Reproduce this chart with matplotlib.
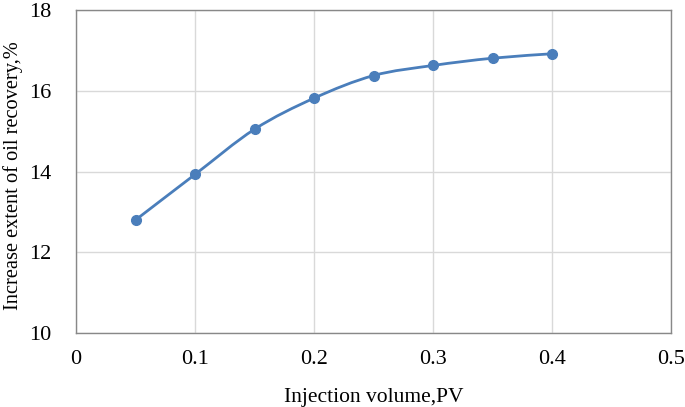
import matplotlib
matplotlib.use("Agg")
import matplotlib.pyplot as plt
import numpy as np
from matplotlib.path import Path
from matplotlib.patches import PathPatch

plt.rcParams["font.family"] = ["Liberation Serif", "DejaVu Serif"]

injection_pv = [0.05, 0.10, 0.15, 0.20, 0.25, 0.30, 0.35, 0.40]
recovery_increase = [12.80, 13.93, 15.05, 15.82, 16.38, 16.63, 16.81, 16.92]

LINE_COLOR = "#4a7ebb"


def smooth_path(xs, ys):
    """Excel-style smoothed line: Catmull-Rom segments as cubic Beziers."""
    pts = np.column_stack([xs, ys])
    verts = [pts[0]]
    codes = [Path.MOVETO]
    n = len(pts)
    for i in range(n - 1):
        p0 = pts[max(i - 1, 0)]
        p1 = pts[i]
        p2 = pts[i + 1]
        p3 = pts[min(i + 2, n - 1)]
        c1 = p1 + (p2 - p0) / 6.0
        c2 = p2 - (p3 - p1) / 6.0
        verts += [c1, c2, p2]
        codes += [Path.CURVE4] * 3
    return Path(verts, codes)


fig = plt.figure(figsize=(6.85, 4.07), dpi=100)
ax = fig.add_axes([0.111, 0.182, 0.869, 0.793])

ax.add_patch(PathPatch(smooth_path(injection_pv, recovery_increase),
                       facecolor="none", edgecolor=LINE_COLOR, lw=2.0, zorder=3))
ax.plot(injection_pv, recovery_increase, ls="none", marker="o", ms=7,
        color=LINE_COLOR, zorder=4)

ax.set_xlim(0, 0.5)
ax.set_ylim(10, 18)
ax.set_xticks(np.arange(0, 0.51, 0.1))
ax.set_xticklabels(["0", "0.1", "0.2", "0.3", "0.4", "0.5"])
ax.set_yticks([10, 12, 14, 16, 18])
ax.grid(True, color="#d9d9d9", lw=1.0)
ax.set_axisbelow(True)
for spine in ax.spines.values():
    spine.set_color("#888888")
    spine.set_linewidth(1.0)
ax.tick_params(length=0, labelsize=16, pad=12)
ax.tick_params(axis="y", pad=18)

ax.set_xlabel("Injection volume,PV", fontsize=15.5, labelpad=14)
ax.set_ylabel("Increase extent of oil recovery,%", fontsize=14.7)
ax.yaxis.label.set_va("center")
ax.yaxis.set_label_coords(-0.106, 0.486)

fig.savefig("out.png", dpi=100)
